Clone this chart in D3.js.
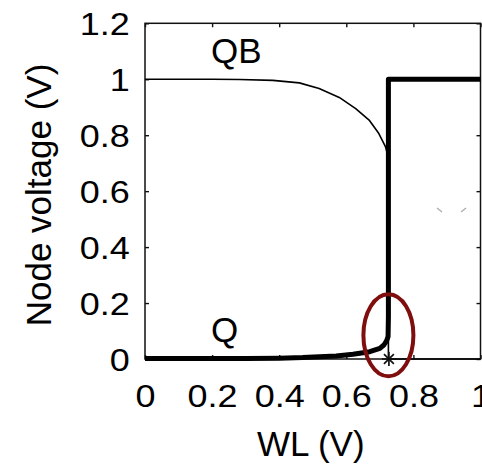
<!DOCTYPE html>
<html>
<head>
<meta charset="utf-8">
<script src="https://cdn.jsdelivr.net/npm/d3@7"></script>
<style>
  html, body { margin: 0; padding: 0; background: #fff; }
  svg { display: block; }
  text { font-family: "Liberation Sans", Arial, Helvetica, sans-serif; fill: #000; }
</style>
</head>
<body>
<div id="chart"></div>
<script>
// Axis ticks
const xTicks = [0, 0.2, 0.4, 0.6, 0.8, 1];
const yTicks = [0, 0.2, 0.4, 0.6, 0.8, 1, 1.2];

// Q node voltage vs. word-line voltage (thick trace)
const wlQ = [0, 0.1, 0.2, 0.3, 0.4, 0.47, 0.52, 0.57, 0.62, 0.67, 0.70, 0.712, 0.72, 0.7245, 0.7255, 0.7255, 1.0];
const vQ  = [0.002, 0.002, 0.002, 0.002, 0.003, 0.005, 0.008, 0.011, 0.017, 0.026, 0.038, 0.05, 0.065, 0.08, 0.15, 1.0, 1.0];

// QB node voltage vs. word-line voltage (thin trace)
const wlQB = [0, 0.1, 0.2, 0.282, 0.381, 0.46, 0.519, 0.579, 0.628, 0.668, 0.697, 0.717, 0.7255, 0.7255, 1.0];
const vQB  = [1.0, 1.0, 1.0, 0.999, 0.996, 0.987, 0.967, 0.935, 0.895, 0.854, 0.806, 0.758, 0.72, 0.0, 0.0];

// Flip point (marker) and the highlighted region around it
const flipWL = 0.727;
const flipV = 0;
const highlightV = 0.085;

const W = 482, H = 469;
const x = d3.scaleLinear().domain([0, 1]).range([145, 480.5]);
const y = d3.scaleLinear().domain([0, 1.2]).range([359, 23.3]);

const svg = d3.select("#chart").append("svg")
  .attr("width", W).attr("height", H);

const tickFont = 30.5, tickStretch = 1.18;

// Bottom axis with labels
const gx = svg.append("g").attr("transform", `translate(0,${y(0)})`)
  .call(d3.axisBottom(x).tickValues(xTicks).tickFormat(d3.format("~g"))
    .tickSizeInner(-4).tickSizeOuter(0).tickPadding(26));
// Left axis with labels
const gy = svg.append("g").attr("transform", `translate(${x(0)},0)`)
  .call(d3.axisLeft(y).tickValues(yTicks).tickFormat(d3.format("~g"))
    .tickSizeInner(-4).tickSizeOuter(0).tickPadding(13));
// Top and right axes: ticks only
const gt = svg.append("g").attr("transform", `translate(0,${y(1.2)})`)
  .call(d3.axisTop(x).tickValues(xTicks).tickFormat("")
    .tickSizeInner(-4).tickSizeOuter(0));
const gr = svg.append("g").attr("transform", `translate(${x(1)},0)`)
  .call(d3.axisRight(y).tickValues(yTicks).tickFormat("")
    .tickSizeInner(-4).tickSizeOuter(0));

[gx, gy, gt, gr].forEach(g => {
  g.select(".domain").remove();
  g.selectAll(".tick line").attr("stroke", "#111").attr("stroke-width", 1.4);
});
gx.selectAll("text").attr("font-size", tickFont).attr("font-family", null)
  .attr("transform", `scale(${tickStretch},1)`);
gy.selectAll("text").attr("font-size", tickFont).attr("font-family", null)
  .attr("dy", "0.38em")
  .attr("transform", `scale(${tickStretch},1)`);

// Plot box
svg.append("rect")
  .attr("x", x(0)).attr("y", y(1.2))
  .attr("width", x(1) - x(0)).attr("height", y(0) - y(1.2))
  .attr("fill", "none").attr("stroke", "#111").attr("stroke-width", 1.5);

const line = d3.line().x(d => x(d[0])).y(d => y(d[1]));

// QB trace
svg.append("path")
  .datum(wlQB.map((w, i) => [w, vQB[i]]))
  .attr("d", line)
  .attr("fill", "none").attr("stroke", "#000").attr("stroke-width", 1.6)
  .attr("stroke-linejoin", "round");

// Q trace
svg.append("path")
  .datum(wlQ.map((w, i) => [w, vQ[i]]))
  .attr("d", line)
  .attr("fill", "none").attr("stroke", "#000").attr("stroke-width", 5)
  .attr("stroke-linejoin", "round");

// Asterisk marker at the flip point
const mx = x(flipWL), my = y(flipV), arm = 7;
const star = svg.append("g").attr("stroke", "#111").attr("stroke-width", 1.7);
[0, 45, 90, 135].forEach(a => {
  const r = a * Math.PI / 180;
  star.append("line")
    .attr("x1", mx - arm * Math.cos(r)).attr("y1", my - arm * Math.sin(r))
    .attr("x2", mx + arm * Math.cos(r)).attr("y2", my + arm * Math.sin(r));
});

// Highlight ellipse
svg.append("ellipse")
  .attr("cx", x(flipWL) - 0.5).attr("cy", y(highlightV))
  .attr("rx", 25).attr("ry", 41)
  .attr("fill", "none").attr("stroke", "#7f0f0f").attr("stroke-width", 4);

// Trace names
svg.append("text").attr("x", 211).attr("y", 63)
  .attr("font-size", 35).text("QB");
svg.append("text").attr("x", 211).attr("y", 342)
  .attr("font-size", 35).text("Q");

// Axis titles
svg.append("text")
  .attr("x", (x(0) + x(1)) / 2 - 2).attr("y", 456)
  .attr("text-anchor", "middle").attr("font-size", 35)
  .text("WL (V)");
svg.append("text")
  .attr("transform", `translate(51,195) rotate(-90)`)
  .attr("text-anchor", "middle").attr("font-size", 35)
  .text("Node voltage (V)");

// Small stray strokes at right of the plot
const stray = svg.append("g").attr("stroke", "#aaa").attr("stroke-width", 1.2);
stray.append("line").attr("x1", 437).attr("y1", 208).attr("x2", 442).attr("y2", 212);
stray.append("line").attr("x1", 461).attr("y1", 212).attr("x2", 466).attr("y2", 208);
</script>
</body>
</html>
